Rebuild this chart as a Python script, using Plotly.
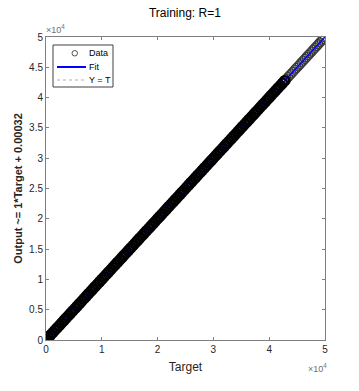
import plotly.graph_objects as go

# Targets (x) read along the diagonal; outputs equal targets (R = 1)
dense_targets = [0, 400, 800, 1200, 1600, 2000, 2400, 2800, 3200, 3600, 4000, 4400, 4800,
                 5200, 5600, 6000, 6400, 6800, 7200, 7600, 8000, 8400, 8800, 9200, 9600,
                 10000, 10400, 10800, 11200, 11600, 12000, 12400, 12800, 13200, 13600, 14000,
                 14400, 14800, 15200, 15600, 16000, 16400, 16800, 17200, 17600, 18000, 18400,
                 18800, 19200, 19600, 20000, 20400, 20800, 21200, 21600, 22000, 22400, 22800,
                 23200, 23600, 24000, 24400, 24800, 25200, 25600, 26000, 26400, 26800, 27200,
                 27600, 28000, 28400, 28800, 29200, 29600, 30000, 30400, 30800, 31200, 31600,
                 32000, 32400, 32800, 33200, 33600, 34000, 34400, 34800, 35200, 35600, 36000,
                 36400, 36800, 37200, 37600, 38000, 38400, 38800, 39200, 39600, 40000, 40400,
                 40800, 41200, 41600, 42000, 42400, 42800]
sparse_targets = [43100, 43400, 43700, 44000, 44300, 44600, 44900, 45200, 45500, 45800,
                  46100, 46400, 46700, 47000, 47300, 47600, 47900, 48200, 48500, 48800,
                  49100, 49400, 49700, 50000]
dense_outputs = list(dense_targets)
sparse_outputs = list(sparse_targets)

fit_x = [0, 50000]
fit_y = [0.00032, 50000.00032]
ident_x = [0, 50000]
ident_y = [0, 50000]

xticks = [0, 10000, 20000, 30000, 40000, 50000]
xtick_text = ["0", "1", "2", "3", "4", "5"]
yticks = [0, 5000, 10000, 15000, 20000, 25000, 30000, 35000, 40000, 45000, 50000]
ytick_text = ["0", "0.5", "1", "1.5", "2", "2.5", "3", "3.5", "4", "4.5", "5"]
legend_labels = ["Data", "Fit", "Y = T"]

FONT = "Liberation Sans, Arial, sans-serif"
AX = "#808080"
TXT = "#262626"

W, H = 359, 391
ML, MR, MT, MB = 46, 34, 37, 51
PW, PH = W - ML - MR, H - MT - MB


def px(xp):
    return (xp - ML) / PW


def py(yp):
    return (H - MB - yp) / PH


fig = go.Figure()
fig.add_trace(go.Scatter(x=ident_x, y=ident_y, mode="lines", name=legend_labels[2],
                         line=dict(color="#b0b0b0", width=1, dash="dot")))
fig.add_trace(go.Scatter(x=sparse_targets, y=sparse_outputs, mode="markers", name=legend_labels[0],
                         marker=dict(symbol="circle-open", size=9, color="#3a3a3a",
                                     line=dict(width=1.3, color="#3a3a3a"))))
fig.add_trace(go.Scatter(x=fit_x, y=fit_y, mode="lines", name=legend_labels[1],
                         line=dict(color="#0000ff", width=1.5)))
fig.add_trace(go.Scatter(x=dense_targets, y=dense_outputs, mode="markers", name=legend_labels[0],
                         marker=dict(symbol="circle-open", size=9, color="black",
                                     line=dict(width=2.5, color="black"))))

axis_common = dict(showline=True, linecolor=AX, linewidth=1, mirror="ticks",
                   ticks="inside", ticklen=3, tickcolor=AX, showgrid=False,
                   zeroline=False, tickfont=dict(family=FONT, size=10, color=TXT))

fig.update_layout(
    width=W, height=H,
    margin=dict(l=ML, r=MR, t=MT, b=MB),
    paper_bgcolor="white", plot_bgcolor="white",
    title=dict(text="Training: R=1", x=0.515, xanchor="center", y=0.967, yanchor="middle",
               font=dict(family=FONT, size=12, color="black")),
    xaxis=dict(range=[0, 50000], tickvals=xticks, ticktext=xtick_text,
               title=dict(text="Target", font=dict(family=FONT, size=12, color=TXT), standoff=8),
               **axis_common),
    yaxis=dict(range=[0, 50000], tickvals=yticks, ticktext=ytick_text,
               title=dict(text="<b>Output ~= 1*Target + 0.00032</b>",
                          font=dict(family=FONT, size=11, color=TXT), standoff=4),
               **axis_common),
    showlegend=False,
)

# legend box (drawn by hand, MATLAB-style compact legend)
fig.add_shape(type="rect", xref="paper", yref="paper",
              x0=px(53), x1=px(113), y0=py(87), y1=py(45),
              line=dict(color="#404040", width=1), fillcolor="white", layer="above")
fig.add_shape(type="circle", xref="paper", yref="paper",
              x0=px(72), x1=px(77.5), y0=py(56), y1=py(50.5),
              line=dict(color="#505050", width=1), layer="above")
fig.add_shape(type="line", xref="paper", yref="paper",
              x0=px(57), x1=px(86), y0=py(67), y1=py(67),
              line=dict(color="#0000ff", width=2), layer="above")
fig.add_shape(type="line", xref="paper", yref="paper",
              x0=px(57), x1=px(86), y0=py(80), y1=py(80),
              line=dict(color="#b0b0b0", width=1, dash="dot"), layer="above")
for lbl, ypix in zip(legend_labels, [53, 67, 80]):
    fig.add_annotation(text=lbl, xref="paper", yref="paper", x=px(87), y=py(ypix),
                       xanchor="left", yanchor="middle", showarrow=False,
                       font=dict(family=FONT, size=9, color="black"))

fig.add_annotation(text="\u00d710<sup>4</sup>", xref="paper", yref="paper", x=0, y=1,
                   xanchor="left", yanchor="bottom", showarrow=False,
                   font=dict(family=FONT, size=9, color="#707070"), xshift=-2)
fig.add_annotation(text="\u00d710<sup>4</sup>", xref="paper", yref="paper", x=1, y=0,
                   xanchor="right", yanchor="top", showarrow=False,
                   font=dict(family=FONT, size=9, color="#707070"), yshift=-20, xshift=4)

fig.write_html("out.html")
